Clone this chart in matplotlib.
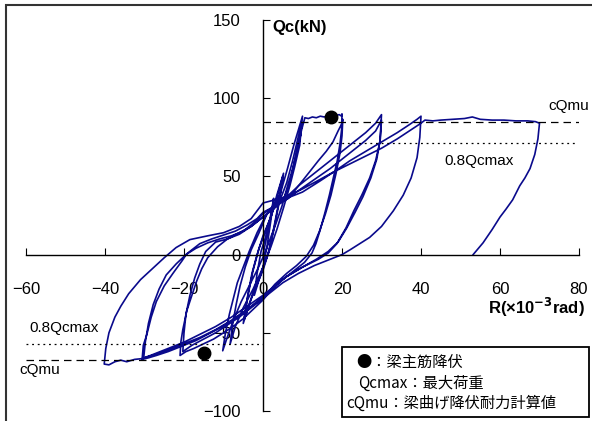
import numpy as np
import matplotlib
matplotlib.use('Agg')
import matplotlib.pyplot as plt
from matplotlib.patches import Rectangle

plt.rcParams['font.family'] = ['Liberation Sans', 'Noto Sans CJK JP', 'DejaVu Sans']

# 履歴曲線 (R: x10^-3 rad, Q: kN) - 各サイクルごとに読み取り
cycA_R = [0, 1.0, 2.0, 2.7, 2.0, 1.0, 0.0, -1.0, -2.2, -1.5, -0.5]
cycA_Q = [0, 12, 26, 36, 22, 5, -8, -16, -26, -12, 2]

cycB_R = [0.5, 2.0, 3.5, 5.2, 4.2, 2.8, 1.5, 0.0, -2.0, -3.5, -5.0, -4.0, -2.8, -1.5,
          0.0, 2.0, 3.5, 5.0, 4.0, 2.6, 1.2, -0.5, -2.5, -4.8, -3.8, -2.5, -1.0]
cycB_Q = [10, 24, 38, 52, 36, 18, 2, -10, -22, -32, -44, -28, -12, 0,
          12, 24, 36, 50, 32, 14, 0, -12, -24, -42, -26, -10, 4]

cycC_R = [0.5, 2.5, 4.5, 6.2, 7.8, 9.0, 10.0, 9.5, 8.5, 7.3, 6.0, 4.8, 3.3, 1.8, 0.5,
          -1.5, -3.5, -5.5, -7.5, -9.2, -10.2, -9.5, -8.5, -7.5, -6.5, -5.0, -3.5, -1.5,
          0.5, 2.5, 4.5, 6.0, 7.5, 8.8, 9.8, 9.3, 8.0, 6.8, 5.2, 3.5, 2.0, 0.0, -2.5,
          -5.0, -7.0, -8.3, -7.8, -6.8, -5.8, -4.5, -3.0]
cycC_Q = [14, 28, 40, 55, 70, 80, 88.5, 76, 64, 53, 42, 31, 20, 10, 1,
          -10, -20, -30, -42, -54, -61.5, -50, -38, -28, -18, -8, 2, 14,
          24, 31, 36, 46, 60, 74, 84, 70, 56, 44, 30, 16, 5, -8, -22,
          -34, -46, -57, -46, -32, -20, -8, 3]

cycD_R = [-1.0, 1.0, 3.5, 5.5, 7.0, 8.5, 9.8, 10.6, 11.5, 12.5, 13.5, 14.5, 15.5, 16.5,
          17.5, 18.5, 19.3, 19.9, 20.0, 19.9, 19.5, 18.8, 17.8, 16.8, 15.7, 14.5, 13.4,
          12.4, 10.5, 8.0, 5.0, 2.0, 0.0, -2.5, -5.0, -7.6, -10.0, -12.5, -15.0, -17.5,
          -19.5, -21.0, -20.8, -20.3, -19.3, -18.0, -16.8, -15.5, -14.0, -11.5, -9.0,
          -6.0, -3.0, 0.0, 2.5, 5.0, 6.5, 9.0, 11.5, 14.0, 16.0, 17.7, 19.0, 20.0, 20.2,
          20.0, 19.5, 18.5, 17.2, 15.8, 14.3, 12.8, 11.0, 8.5, 6.0, 3.0, 0.0, -3.0, -6.0,
          -9.0, -12.0, -15.0, -18.0, -20.3, -20.0, -19.5, -18.5, -17.3, -16.0, -14.5, -12.0]
cycD_Q = [14, 26, 33, 37, 48, 66, 80, 87.5, 87, 88, 87.5, 88.5, 88, 88.8,
          88.5, 89, 89.5, 88.5, 90, 80, 71, 60, 49, 38, 27, 16, 7,
          1, -5, -10, -16, -23, -29, -35, -41, -46, -50, -54, -57, -60,
          -62, -64.5, -56, -48, -36, -26, -17, -9, -2, 5, 10,
          14, 18, 24, 29, 34, 36, 44, 52, 60, 66, 72, 79, 84, 86.5,
          76, 65, 52, 38, 26, 15, 6, -1, -7, -12, -19, -28, -34, -40,
          -45, -50, -54, -58, -62, -50, -38, -26, -15, -6, 2, 8]

cycE_R = [-9.0, -6.0, -3.0, 0.0, 3.0, 5.6, 9.0, 13.0, 17.0, 20.0, 23.0, 26.0, 28.5, 30.0,
          29.6, 28.5, 27.0, 25.0, 23.0, 21.0, 18.7, 16.5, 14.0, 10.0, 6.0, 2.0, 0.0, -4.0,
          -7.6, -11.0, -14.0, -17.0, -21.0, -24.0, -27.0, -29.0, -30.6, -30.3, -29.4,
          -28.3, -27.0, -25.0, -22.8, -20.5, -19.3, -17.5, -16.0, -13.0, -10.0, -7.0,
          -4.0, -1.5, 0.0, 3.0, 5.6, 9.0, 13.0, 17.0, 20.0, 23.0, 26.0, 28.5, 30.0, 29.7,
          28.8, 27.3, 25.3, 23.3, 21.2, 19.0, 16.5, 13.5, 10.0, 6.0, 2.0, 0.0, -4.0, -8.0,
          -12.0, -16.0, -20.0, -23.0, -26.0, -28.5, -30.2, -29.8, -29.0, -27.8, -26.3,
          -24.5, -22.0, -19.5, -17.0, -14.0, -11.0, -8.0, -5.0, -2.0, 0.0, 3.0]
cycE_Q = [10, 13, 18, 24, 30, 36, 44, 52, 60, 66, 72, 78, 84, 89.5,
          72, 60, 49, 38, 28, 17, 7, 1, -3, -8, -14, -22, -27, -35,
          -42, -47, -51, -55, -59, -62, -64.5, -66, -67, -58, -51,
          -40, -30, -20, -12, -4, 0.5, 4, 7, 10, 12.5, 15,
          19, 23, 27, 31, 35, 41, 48, 55, 61, 67, 73, 79, 86, 74,
          61, 49, 37, 27, 17, 8, 2, -3, -8, -14, -22, -26, -33, -40,
          -46, -51, -56, -59, -62, -64.5, -66, -56, -44, -32, -22,
          -13, -6, 0, 4, 7.5, 10, 12, 15, 21, 26, 31]

cycF_R = [6.0, 10.0, 14.4, 18.0, 22.0, 26.0, 30.0, 34.0, 37.0, 39.0, 40.0, 39.7, 39.0,
          37.5, 35.5, 33.0, 30.0, 27.0, 24.5, 22.0, 20.0, 17.0, 13.0, 9.0, 5.0, 2.0, 0.0,
          -4.0, -8.0, -12.0, -16.0, -20.0, -24.0, -27.5, -30.5, -32.5, -34.5, -36.0,
          -37.5, -39.0, -40.2]
cycF_Q = [36, 40, 47, 53, 60, 66, 72, 78, 83, 86.5, 88.5, 75, 62,
          49, 38, 28, 18, 11, 7, 3, 0, -3, -7, -12, -18, -24, -28,
          -35, -42, -48, -53, -57, -61, -64, -66.5, -67, -68.5, -67.5,
          -68.5, -70.5, -70]

last_R = [-39.8, -39.0, -37.5, -36.0, -34.0, -31.0, -28.0, -25.0, -22.0, -18.5, -14.0,
          -10.0, -6.0, -3.0, -1.5, 0.0, 3.0, 6.0, 10.0, 14.4, 18.0, 22.0, 26.0, 30.0,
          34.0, 37.0, 40.0, 41.0, 43.0, 45.0, 48.0, 51.0, 53.0, 55.0, 58.0, 61.0, 64.0,
          67.0, 69.0, 70.0, 69.6, 68.8, 67.6, 66.3, 65.0, 63.2, 61.5, 60.0, 58.0, 55.7,
          54.2, 53.2]
last_Q = [-60, -50, -40, -33, -25, -16, -9, -2, 4.5, 9.6, 12,
          14, 18, 23, 28, 33, 35, 37, 42, 48, 53, 58, 63, 68,
          74, 79, 84, 86, 85.5, 86, 86.5, 87, 88, 86.5, 86, 86, 85.5,
          85.5, 85, 84, 74, 64, 55, 49, 44, 35, 29, 24, 16, 7.5,
          3, 0]

# 梁主筋降伏点
yield_R = [17.2, -14.9]
yield_Q = [87.8, -62.8]

# 計算値
cQmu_pos, cQmu_neg = 84.6, -67.4
q08_pos, q08_neg = 71.6, -57.4

R = np.concatenate([cycA_R, cycB_R, cycC_R, cycD_R, cycE_R, cycF_R, last_R])
Q = np.concatenate([cycA_Q, cycB_Q, cycC_Q, cycD_Q, cycE_Q, cycF_Q, last_Q])

fig = plt.figure(figsize=(5.92, 4.21), dpi=100)
ax = fig.add_axes([26 / 592, 1 - 411 / 421, 553 / 592, 391 / 421])
ax.set_xlim(-60, 80)
ax.set_ylim(-100, 150)

ax.spines['left'].set_position(('data', 0))
ax.spines['bottom'].set_position(('data', 0))
ax.spines['top'].set_visible(False)
ax.spines['right'].set_visible(False)
for s in ['left', 'bottom']:
    ax.spines[s].set_linewidth(1.0)
    ax.spines[s].set_color('black')

ax.set_xticks([-60, -40, -20, 0, 20, 40, 60, 80])
ax.set_yticks([-100, -50, 0, 50, 100, 150])
ax.tick_params(axis='x', direction='in', length=5, pad=20, labelsize=12)
ax.tick_params(axis='y', direction='in', length=5, pad=16, labelsize=12)
ax.patch.set_visible(False)

ax.plot(R, Q, color='#0a0a8c', lw=1.2, zorder=2)
ax.plot(yield_R, yield_Q, 'o', color='black', ms=9, zorder=3)

ax.hlines(cQmu_pos, 0, 80, colors='black', linestyles=(0, (6, 4)), lw=0.9)
ax.hlines(q08_pos, 0, 79, colors='black', linestyles=(0, (1.5, 3)), lw=0.9)
ax.hlines(cQmu_neg, -60, 0, colors='black', linestyles=(0, (6, 4)), lw=0.9)
ax.hlines(q08_neg, -60, 0, colors='black', linestyles=(0, (1.5, 3)), lw=0.9)

ax.text(2.3, 145.5, 'Qc(kN)', fontsize=12, fontweight='bold', ha='left', va='center')
ax.text(81.5, -34, r'R(×10$^{\mathbf{-3}}$rad)', fontsize=12, fontweight='bold',
        ha='right', va='center', clip_on=False)
ax.text(72.2, 95, 'cQmu', fontsize=11, ha='left', va='center', clip_on=False)
ax.text(46, 60, '0.8Qcmax', fontsize=11, ha='left', va='center')
ax.text(-59.2, -47, '0.8Qcmax', fontsize=11, ha='left', va='center')
ax.text(-61.8, -73.8, 'cQmu', fontsize=11, ha='left', va='center', clip_on=False)

# 凡例の枠
fig.add_artist(Rectangle((342 / 592, 1 - 417 / 421), 247 / 592, 70 / 421,
                         transform=fig.transFigure, fill=False, lw=1.3, ec='black'))
jp = ['Noto Sans CJK JP', 'DejaVu Sans']
fig.text(356 / 592, 1 - 362 / 421, '●：梁主筋降伏', fontsize=11, va='center', family=jp)
fig.text(358 / 592, 1 - 383 / 421, 'Qcmax：最大荷重', fontsize=11, va='center', family=jp)
fig.text(346 / 592, 1 - 403 / 421, 'cQmu：梁曲げ降伏耐力計算値', fontsize=11, va='center', family=jp)

# 外枠
fig.add_artist(Rectangle((6 / 592, -0.1), 1.2, 1.1 - 5 / 421,
                         transform=fig.transFigure, fill=False, lw=1.5, ec='#333333'))

fig.savefig('out.png', dpi=100)
